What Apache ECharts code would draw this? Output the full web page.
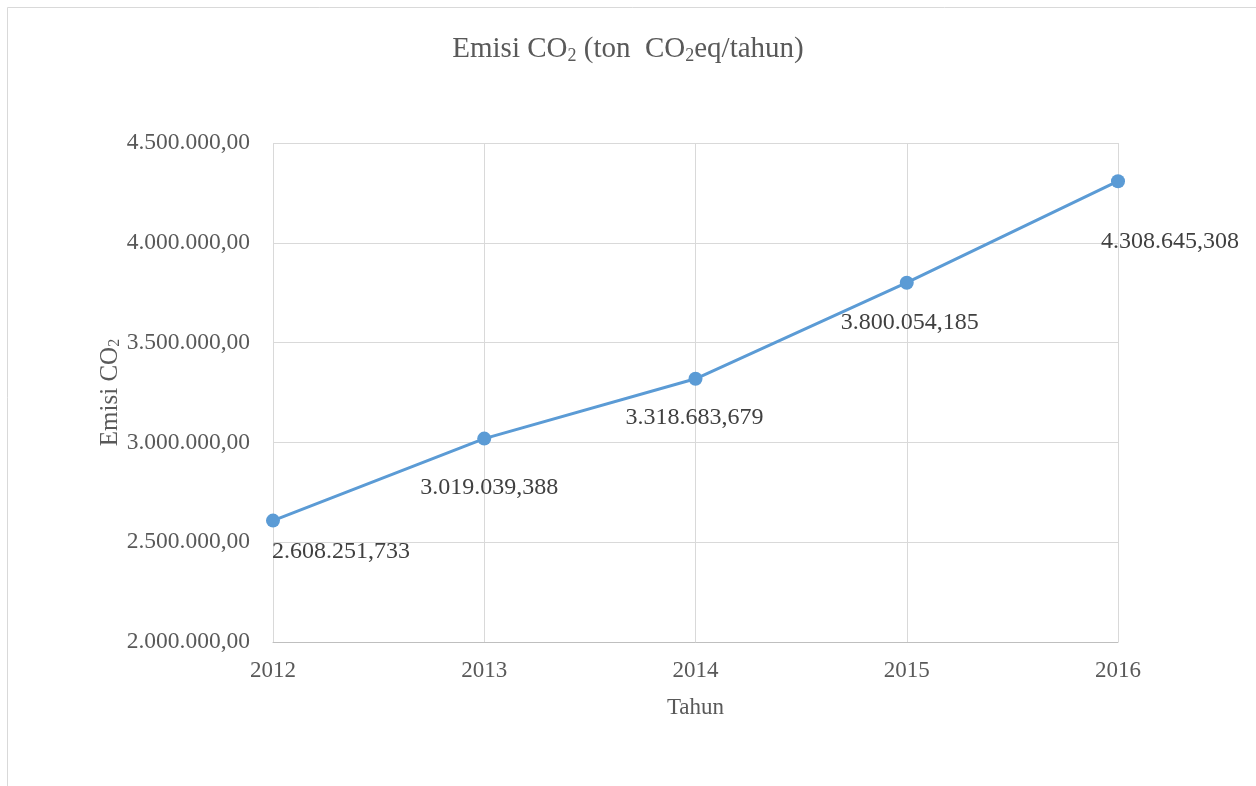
<!DOCTYPE html>
<html><head><meta charset="utf-8">
<script src="https://cdn.jsdelivr.net/npm/echarts@6/dist/echarts.min.js"></script>
<style>html,body{margin:0;padding:0;background:#fff}#c{width:1256px;height:786px}</style>
</head><body><div id="c"></div>
<script>
const years = ['2012','2013','2014','2015','2016'];
const emisi = [2608251.733, 3019039.388, 3318683.679, 3800054.185, 4308645.308];
const labelOffsets = [[68,31],[5,49],[-1,39],[3,40],[52,61]];

function fmt(v, dec){
  const s = v.toFixed(dec);
  const parts = s.split('.');
  const ip = parts[0].replace(/\B(?=(\d{3})+(?!\d))/g, '.');
  return parts[1] !== undefined ? ip + ',' + parts[1] : ip;
}
const font = '"Liberation Serif","Times New Roman",serif';
const chart = echarts.init(document.getElementById('c'));
chart.setOption({
  animation:false,
  backgroundColor:'#fff',
  graphic:[{type:'rect',shape:{x:7.5,y:7.5,width:1260,height:800},style:{fill:'none',stroke:'#d9d9d9',lineWidth:1},silent:true,z:-1}],
  title:{
    text:'{a|Emisi CO}{s|2}{a| (ton  CO}{s|2}{a|eq/tahun)}',
    left:'center', top:29,
    textStyle:{rich:{
      a:{fontFamily:font,fontSize:29,fontWeight:'normal',color:'#595959'},
      s:{fontFamily:font,fontSize:18,fontWeight:'normal',color:'#595959',verticalAlign:'bottom',padding:[13,0,0,0]}
    }}
  },
  grid:{left:273,right:138,top:143,bottom:144},
  xAxis:{
    type:'category', data:years, boundaryGap:false,
    name:'Tahun', nameLocation:'middle', nameGap:54,
    nameTextStyle:{fontFamily:font,fontSize:23,color:'#595959'},
    axisLine:{lineStyle:{color:'#bfbfbf',width:1}},
    axisTick:{show:false},
    axisLabel:{fontFamily:font,fontSize:23,color:'#595959',margin:17},
    splitLine:{show:true,lineStyle:{color:'#d9d9d9',width:1}}
  },
  yAxis:{
    type:'value', min:2000000, max:4500000, interval:500000,
    name:'{a|Emisi CO}{s|2}', nameLocation:'middle', nameGap:150, nameRotate:90,
    nameMoveOverlap:false,
    nameTextStyle:{rich:{
      a:{fontFamily:font,fontSize:25,color:'#595959'},
      s:{fontFamily:font,fontSize:16,color:'#595959',verticalAlign:'bottom',padding:[10,0,0,0]}
    }},
    axisLine:{show:false}, axisTick:{show:false},
    axisLabel:{fontFamily:font,fontSize:23.5,color:'#595959',margin:23,formatter:v=>fmt(v,2)},
    splitLine:{lineStyle:{color:'#d9d9d9',width:1}}
  },
  series:[{
    type:'line',
    data:emisi.map((v,i)=>({value:v,label:{offset:labelOffsets[i]}})),
    symbol:'circle', symbolSize:14,
    lineStyle:{color:'#5B9BD5',width:3},
    itemStyle:{color:'#5B9BD5'},
    label:{show:true,position:'inside',fontFamily:font,fontSize:24,color:'#404040',formatter:p=>fmt(p.value,3)}
  }]
});
</script></body></html>
